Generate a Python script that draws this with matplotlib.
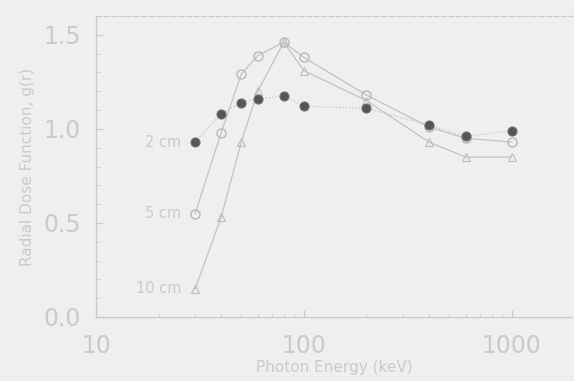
import matplotlib
matplotlib.use("Agg")
import matplotlib.pyplot as plt
from matplotlib.ticker import FixedLocator, NullFormatter

# Photonenenergien [keV] und radiale Dosisfunktion g(r)
energy = [30, 40, 50, 60, 80, 100, 200, 400, 600, 1000]
g_2cm = [0.93, 1.08, 1.14, 1.16, 1.175, 1.12, 1.11, 1.02, 0.96, 0.99]
g_5cm = [0.55, 0.98, 1.29, 1.39, 1.46, 1.38, 1.18, 1.01, 0.95, 0.93]
g_10cm = [0.15, 0.53, 0.93, 1.20, 1.46, 1.31, 1.15, 0.93, 0.85, 0.85]
labels = ["2 cm", "5 cm", "10 cm"]

bg = "#efefef"
txt = "#cacaca"
ln = "#c2c2c2"

fig = plt.figure(figsize=(5.74, 3.81), dpi=100, facecolor=bg)
ax = fig.add_axes([96 / 574, 64 / 381, 476 / 574, 301 / 381], facecolor=bg)

ax.plot(energy, g_10cm, color=ln, lw=0.9, ls="-", marker="^", ms=5.5,
        mfc="none", mec="#c0c0c0", mew=0.9)
ax.plot(energy, g_5cm, color=ln, lw=0.9, ls="-", marker="o", ms=6.5,
        mfc="none", mec="#b8b8b8", mew=1.0)
ax.plot(energy, g_2cm, color=ln, lw=0.9, ls=":", marker="o", ms=6.5,
        mfc="#555555", mec="#707070", mew=0.8)

# Kurvenbeschriftung links vom ersten Punkt
for lab, ys in zip(labels, [g_2cm, g_5cm, g_10cm]):
    ax.annotate(lab, (energy[0], ys[0]), xytext=(-10, 0), textcoords="offset points",
                ha="right", va="center", fontsize=10.5, color=txt)

ax.set_xscale("log")
ax.set_xlim(10, 1950)
ax.set_ylim(0, 1.6)
ax.set_xticks([10, 100, 1000])
ax.set_xticklabels(["10", "100", "1000"])
ax.xaxis.set_minor_locator(FixedLocator([m * 10 ** k for k in (1, 2, 3) for m in range(2, 10)]))
ax.xaxis.set_minor_formatter(NullFormatter())
ax.set_yticks([0.0, 0.5, 1.0, 1.5])
ax.set_yticklabels(["0.0", "0.5", "1.0", "1.5"])
ax.yaxis.set_minor_locator(FixedLocator([i / 10 for i in range(16)]))
ax.tick_params(which="both", direction="in", color=txt, labelcolor=txt)
ax.tick_params(which="major", length=5, labelsize=17)
ax.tick_params(axis="x", which="major", pad=12)
ax.tick_params(axis="y", which="major", pad=11)
ax.tick_params(which="minor", length=3)

for s in ("left", "bottom", "top"):
    ax.spines[s].set_color("#c8c8c8")
    ax.spines[s].set_linewidth(0.9)
ax.spines["top"].set_linestyle((0, (4, 2)))
ax.spines["right"].set_visible(False)

ax.set_xlabel("Photon Energy (keV)", fontsize=11, color=txt, labelpad=2)
ax.set_ylabel("Radial Dose Function, g(r)", fontsize=11, color=txt, labelpad=6)

fig.savefig("out.png", dpi=100, facecolor=bg)
